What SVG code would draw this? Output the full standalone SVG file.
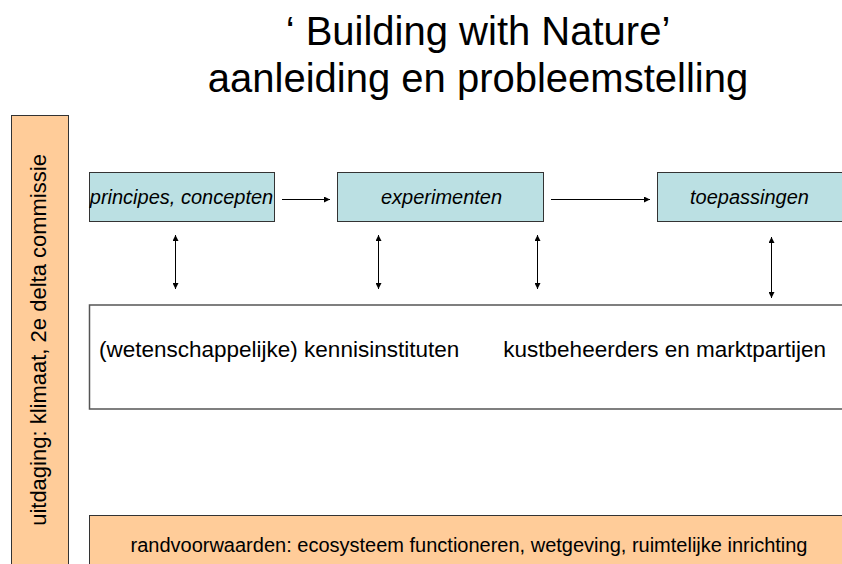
<svg xmlns="http://www.w3.org/2000/svg" width="842" height="564" viewBox="0 0 842 564">
  <defs>
    <marker id="ah" viewBox="0 0 10 10" refX="10" refY="5" markerWidth="7" markerHeight="6" markerUnits="userSpaceOnUse" orient="auto-start-reverse">
      <path d="M0,0 L10,5 L0,10 z" fill="#000"/>
    </marker>
    <style>
      text { font-family: "Liberation Sans", Arial, sans-serif; fill: #000; }
      .title { font-size: 40px; text-anchor: middle; }
      .cyan { fill: #BBE0E3; stroke: #333; stroke-width: 1; }
      .orange { fill: #FFCC99; stroke: #333; stroke-width: 1; }
      .white { fill: #fff; stroke: #555; stroke-width: 1.5; }
      .it { font-size: 20px; font-style: italic; text-anchor: middle; }
      .conn line { stroke: #000; stroke-width: 1; }
    </style>
  </defs>
  <rect width="842" height="564" fill="#fff"/>

  <g id="title">
    <text class="title" x="478" y="45">‘ Building with Nature’</text>
    <text class="title" x="478" y="92">aanleiding en probleemstelling</text>
  </g>

  <g id="uitdaging">
    <rect class="orange" x="11.5" y="115.5" width="57" height="460"/>
    <text x="0" y="0" font-size="22" text-anchor="middle" transform="translate(46,340) rotate(-90)">uitdaging: klimaat, 2e delta commissie</text>
  </g>

  <g id="principes">
    <rect class="cyan" x="89.5" y="172.5" width="185" height="49"/>
    <text class="it" x="181.5" y="204">principes, concepten</text>
  </g>

  <g id="experimenten">
    <rect class="cyan" x="337.5" y="172.5" width="206" height="49"/>
    <text class="it" x="441.5" y="204">experimenten</text>
  </g>

  <g id="toepassingen">
    <rect class="cyan" x="657.5" y="172.5" width="200" height="49"/>
    <text class="it" x="749.5" y="204">toepassingen</text>
  </g>

  <g id="actoren">
    <rect class="white" x="89.5" y="305" width="770" height="104"/>
    <text x="99" y="357" font-size="22.5">(wetenschappelijke) kennisinstituten</text>
    <text x="826" y="357" font-size="22.5" text-anchor="end">kustbeheerders en marktpartijen</text>
  </g>

  <g id="randvoorwaarden">
    <rect class="orange" x="89.5" y="515.5" width="770" height="60"/>
    <text x="469" y="552" font-size="20" text-anchor="middle">randvoorwaarden: ecosysteem functioneren, wetgeving, ruimtelijke inrichting</text>
  </g>

  <g id="connectors" class="conn">
    <line x1="282" y1="199.5" x2="330" y2="199.5" marker-end="url(#ah)"/>
    <line x1="551" y1="199.5" x2="650" y2="199.5" marker-end="url(#ah)"/>
    <line x1="175.5" y1="235" x2="175.5" y2="289" marker-start="url(#ah)" marker-end="url(#ah)"/>
    <line x1="378.5" y1="235" x2="378.5" y2="289" marker-start="url(#ah)" marker-end="url(#ah)"/>
    <line x1="537.5" y1="235" x2="537.5" y2="289" marker-start="url(#ah)" marker-end="url(#ah)"/>
    <line x1="771.5" y1="237" x2="771.5" y2="298" marker-start="url(#ah)" marker-end="url(#ah)"/>
  </g>
</svg>
